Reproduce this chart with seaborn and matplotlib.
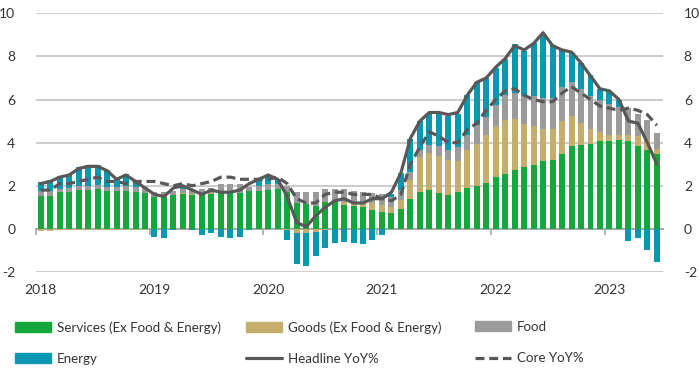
import numpy as np
import pandas as pd
import matplotlib
matplotlib.use("Agg")
import matplotlib.pyplot as plt
from matplotlib.patches import Patch
from matplotlib.lines import Line2D
import seaborn as sns

# ---------------- data (monthly, Jan 2018 - Jun 2023) ----------------
years = ["2018", "2019", "2020", "2021", "2022", "2023"]

services = [1.52, 1.52, 1.70, 1.70, 1.80, 1.80, 1.85, 1.74, 1.74, 1.74, 1.70, 1.66,
            1.50, 1.50, 1.58, 1.63, 1.58, 1.60, 1.63, 1.66, 1.66, 1.66, 1.75, 1.78,
            1.81, 1.84, 1.72, 1.20, 1.16, 1.08, 1.27, 1.27, 1.13, 1.04, 1.00, 0.88,
            0.76, 0.74, 0.93, 1.38, 1.70, 1.81, 1.66, 1.58, 1.70, 1.89, 1.98, 2.12,
            2.40, 2.53, 2.73, 2.87, 2.98, 3.16, 3.21, 3.49, 3.83, 3.88, 3.92, 4.06,
            4.09, 4.14, 4.06, 3.84, 3.67, 3.46]

goods = [-0.08, -0.08, -0.05, -0.05, -0.05, -0.05, -0.05, -0.05, -0.05, -0.05, -0.03, -0.03,
         -0.02, -0.02, 0.00, 0.02, 0.03, 0.04, 0.05, 0.03, 0.02, 0.02, 0.00, -0.02,
         -0.02, -0.02, -0.05, -0.17, -0.18, -0.15, -0.05, 0.00, 0.12, 0.18, 0.23, 0.30,
         0.36, 0.26, 0.42, 0.88, 1.63, 1.70, 1.70, 1.60, 1.47, 1.75, 1.94, 2.22,
         2.36, 2.54, 2.35, 1.98, 1.78, 1.49, 1.44, 1.50, 1.40, 1.04, 0.73, 0.43,
         0.28, 0.23, 0.31, 0.45, 0.47, 0.26]

food = [0.25, 0.25, 0.16, 0.20, 0.17, 0.20, 0.20, 0.22, 0.20, 0.23, 0.22, 0.27,
        0.23, 0.20, 0.20, 0.20, 0.20, 0.22, 0.22, 0.38, 0.38, 0.38, 0.20, 0.23,
        0.25, 0.25, 0.28, 0.50, 0.57, 0.65, 0.60, 0.58, 0.60, 0.55, 0.50, 0.50,
        0.48, 0.48, 0.45, 0.39, 0.34, 0.36, 0.48, 0.50, 0.62, 0.73, 0.88, 0.85,
        0.98, 1.13, 1.24, 1.30, 1.40, 1.44, 1.40, 1.57, 1.60, 1.57, 1.50, 1.47,
        1.40, 1.29, 1.24, 1.02, 0.90, 0.74]

energy = [0.41, 0.51, 0.59, 0.65, 0.88, 0.95, 0.90, 0.79, 0.41, 0.58, 0.31, -0.03,
          -0.36, -0.42, -0.05, 0.12, -0.06, -0.30, -0.18, -0.36, -0.42, -0.36, -0.06, 0.25,
          0.45, 0.23, -0.46, -1.45, -1.55, -1.10, -0.85, -0.67, -0.60, -0.65, -0.70, -0.50,
          -0.27, 0.15, 0.78, 1.50, 1.33, 1.50, 1.53, 1.57, 1.55, 1.83, 2.00, 1.80,
          1.70, 1.70, 2.25, 2.10, 2.45, 2.97, 2.47, 1.74, 1.35, 1.20, 0.98, 0.55,
          0.62, 0.32, -0.54, -0.42, -1.00, -1.55]

headline = [2.1, 2.2, 2.4, 2.5, 2.8, 2.9, 2.9, 2.7, 2.3, 2.5, 2.2, 1.9,
            1.6, 1.5, 1.9, 2.0, 1.8, 1.6, 1.8, 1.7, 1.7, 1.8, 2.1, 2.3,
            2.5, 2.3, 1.5, 0.3, 0.1, 0.6, 1.0, 1.3, 1.4, 1.2, 1.2, 1.4,
            1.4, 1.7, 2.6, 4.2, 5.0, 5.4, 5.4, 5.3, 5.4, 6.2, 6.8, 7.0,
            7.5, 7.9, 8.5, 8.3, 8.6, 9.1, 8.5, 8.3, 8.2, 7.7, 7.1, 6.5,
            6.4, 6.0, 5.0, 4.9, 4.0, 3.0]

core = [1.8, 1.8, 2.1, 2.1, 2.2, 2.3, 2.4, 2.2, 2.2, 2.1, 2.2, 2.2,
        2.2, 2.1, 2.0, 2.1, 2.0, 2.1, 2.2, 2.4, 2.4, 2.3, 2.3, 2.3,
        2.3, 2.4, 2.1, 1.4, 1.2, 1.2, 1.6, 1.7, 1.7, 1.6, 1.6, 1.6,
        1.4, 1.3, 1.6, 3.0, 3.8, 4.5, 4.3, 4.0, 4.0, 4.6, 4.9, 5.5,
        6.0, 6.4, 6.5, 6.2, 6.0, 5.9, 5.9, 6.3, 6.6, 6.3, 6.0, 5.7,
        5.6, 5.5, 5.6, 5.5, 5.3, 4.8]

ytick_vals = [-2, 0, 2, 4, 6, 8, 10]
ytick_labels = ["-2", "0", "2", "4", "6", "8", "10"]

labels = ["Services (Ex Food & Energy)", "Goods (Ex Food & Energy)", "Food",
          "Energy", "Headline YoY%", "Core YoY%"]

# ---------------- style ----------------
sns.set_theme(style="white")
plt.rcParams["font.family"] = ["Lato", "DejaVu Sans"]

C_SERV = "#15a63c"
C_GOOD = "#c5ae6b"
C_FOOD = "#9b9b9b"
C_ENER = "#0a98b0"
C_LINE = "#585858"
C_GRID = "#c4c4c4"
TXT = "#333333"

n = len(services)
x = np.arange(n)
df = pd.DataFrame({"x": x, "Headline": headline, "Core": core})

fig = plt.figure(figsize=(6.99, 3.78), dpi=100)
ax = fig.add_axes([36 / 699, 1 - 272 / 378, (663 - 36) / 699, (272 - 13.3) / 378])

# stacked bars: positives above zero, negatives below zero
pos_base = np.zeros(n)
neg_base = np.zeros(n)
bw = 0.63
for vals, col in [(services, C_SERV), (goods, C_GOOD), (food, C_FOOD), (energy, C_ENER)]:
    v = np.asarray(vals, dtype=float)
    p = np.where(v > 0, v, 0.0)
    q = np.where(v < 0, v, 0.0)
    ax.bar(x, p, bottom=pos_base, width=bw, color=col, linewidth=0, zorder=2)
    ax.bar(x, q, bottom=neg_base, width=bw, color=col, linewidth=0, zorder=2)
    pos_base += p
    neg_base += q

sns.lineplot(data=df, x="x", y="Headline", ax=ax, color=C_LINE, lw=2.3, zorder=4)
sns.lineplot(data=df, x="x", y="Core", ax=ax, color=C_LINE, lw=2.3, zorder=3,
             dashes=False, linestyle=(0, (2.8, 1.5)))

ax.set_xlim(-0.5, n - 0.35)
ax.set_ylim(-2, 10)
ax.set_xlabel("")
ax.set_ylabel("")

# grid lines
for yv in ytick_vals:
    if yv != 0:
        ax.axhline(yv, color=C_GRID, lw=1.2, zorder=0)

for s in ["top", "left", "right"]:
    ax.spines[s].set_visible(False)
ax.spines["bottom"].set_position(("data", 0))
ax.spines["bottom"].set_color("#a8a8a8")
ax.spines["bottom"].set_linewidth(1.4)
ax.spines["bottom"].set_zorder(1)

year_bounds = np.arange(0, n, 12) - 0.5
ax.set_xticks(year_bounds)
ax.set_xticklabels([])
ax.tick_params(axis="x", direction="out", length=4, width=1.2, color="#a8a8a8",
               bottom=True, labelbottom=False)

sec = ax.secondary_xaxis(0.0)
sec.set_xticks(np.arange(0, n, 12))
sec.set_xticklabels(years)
sec.tick_params(axis="x", length=0, pad=9, labelsize=10, labelcolor=TXT)
sec.spines["bottom"].set_visible(False)

ax.set_yticks(ytick_vals)
ax.set_yticklabels(ytick_labels)
ax.tick_params(axis="y", left=False, right=False, labelleft=True, labelright=True,
               labelsize=10, labelcolor=TXT, pad=9)

# legend (three columns, two rows)
handles = [Patch(color=C_SERV), Patch(color=C_GOOD), Patch(color=C_FOOD),
           Patch(color=C_ENER), Line2D([], [], color=C_LINE, lw=2.3),
           Line2D([], [], color=C_LINE, lw=2.3, linestyle=(0, (2.8, 1.5)))]
col_x = [15 / 699, 246 / 699, 475 / 699]
for ci in range(3):
    hs = [handles[ci], handles[ci + 3]]
    ls = [labels[ci], labels[ci + 3]]
    fig.legend(hs, ls, loc="upper left", bbox_to_anchor=(col_x[ci], 1 - 321 / 378),
               frameon=False, fontsize=9.6, handlelength=2.7, handleheight=0.75,
               handletextpad=0.45, labelspacing=1.45, borderpad=0, borderaxespad=0,
               labelcolor=TXT)

fig.savefig("out.png", dpi=100)
